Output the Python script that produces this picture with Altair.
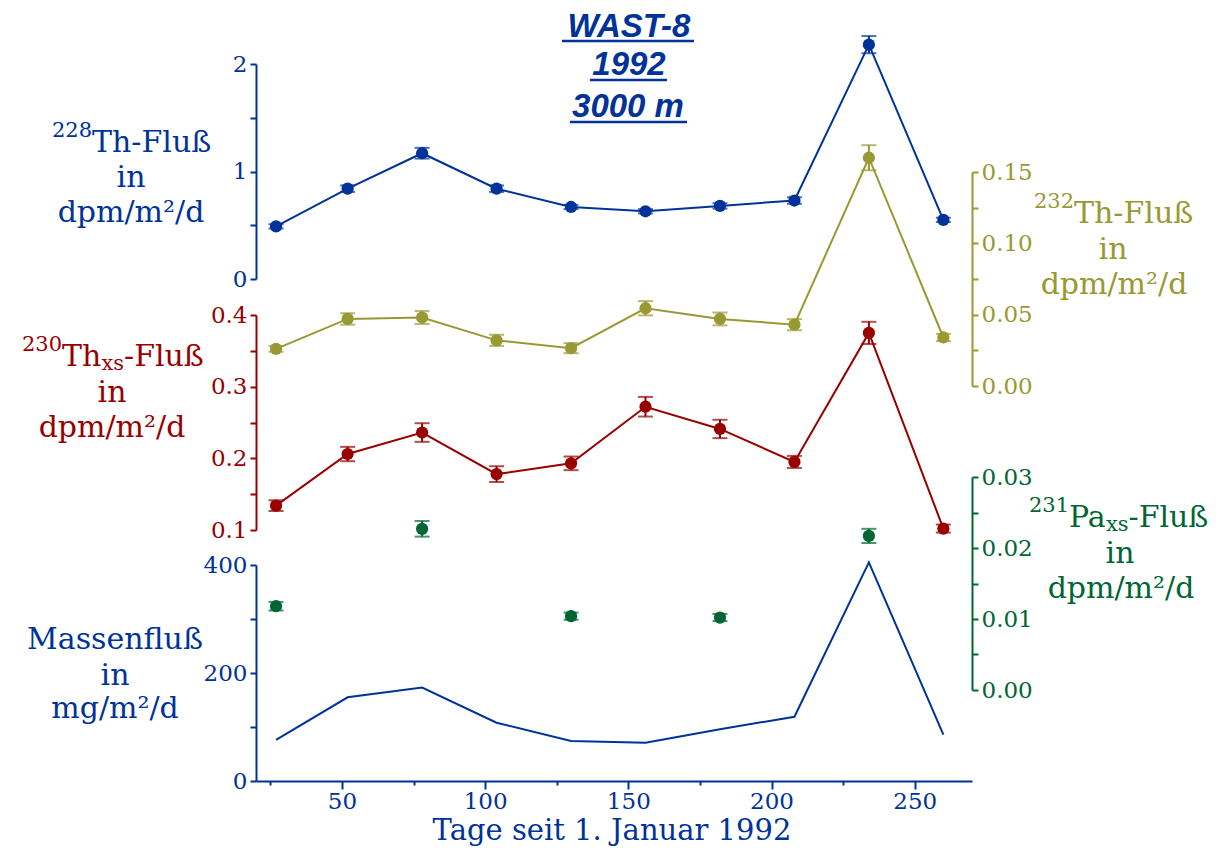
import altair as alt
import pandas as pd

# ---------------- data ----------------
days = [27, 52, 78, 104, 130, 156, 182, 208, 234, 260]
th228 = [0.49, 0.84, 1.17, 0.84, 0.67, 0.63, 0.68, 0.73, 2.18, 0.55]
th228_err = [0.02, 0.03, 0.05, 0.03, 0.02, 0.02, 0.025, 0.03, 0.08, 0.02]
th232 = [0.026, 0.047, 0.048, 0.032, 0.0265, 0.0545, 0.047, 0.043, 0.160, 0.034]
th232_err = [0.002, 0.004, 0.0045, 0.0039, 0.0035, 0.005, 0.0045, 0.0039, 0.0088, 0.0025]
th230 = [0.134, 0.206, 0.236, 0.178, 0.193, 0.272, 0.241, 0.195, 0.375, 0.102]
th230_err = [0.0075, 0.010, 0.013, 0.011, 0.0095, 0.0137, 0.0128, 0.0084, 0.0155, 0.0056]
pa_days = [27, 78, 130, 182, 234]
pa231 = [0.0118, 0.0227, 0.0104, 0.0102, 0.0217]
pa231_err = [0.0006, 0.0011, 0.0005, 0.0005, 0.0010]
mass = [76, 155, 173, 108, 74, 71, 96, 119, 405, 86]

x_ticks = [25, 50, 75, 100, 125, 150, 175, 200, 225, 250]

BLUE = "#003399"
OLIVE = "#999933"
RED = "#990000"
GREEN = "#006633"
SERIF = "DejaVu Serif"
TICK_FS = 23
MAIN_FS = 30
SUP_FS = 21

# layout (page pixels)
OX, OY = 256, 8
W, H = 716, 773


def px(x):
    return x - OX


def py(y):
    return y - OY


X = alt.X(
    "x:Q",
    scale=alt.Scale(domain=[20, 270], nice=False, zero=False),
    axis=alt.Axis(
        values=x_ticks,
        labelExpr="datum.value % 50 == 0 ? format(datum.value, 'd') : ''",
        tickSize={"condition": {"test": "datum.value % 50 != 0", "value": 4}, "value": 8},
        tickWidth=2, domainWidth=2, domainColor=BLUE, tickColor=BLUE,
        labelColor=BLUE, labelFont=SERIF, labelFontSize=TICK_FS, labelPadding=1,
        grid=False, title=None,
    ),
)


def yaxis(color, orient, values, expr):
    return alt.Axis(
        orient=orient, values=values, labelExpr=expr, tickSize=6, tickWidth=2,
        domainWidth=2, domainColor=color, tickColor=color, labelColor=color,
        labelFont=SERIF, labelFontSize=TICK_FS, labelPadding=3, grid=False, title=None,
    )


def series(xs, vals, errs, color, scale, axis, line=True, point_size=150):
    df = pd.DataFrame({"x": xs, "v": vals,
                       "lo": [v - e for v, e in zip(vals, errs)],
                       "hi": [v + e for v, e in zip(vals, errs)]})
    caps = pd.DataFrame({"x": xs + xs, "v": list(df["lo"]) + list(df["hi"])})

    def Y(f):
        return alt.Y(f + ":Q", scale=scale, axis=axis, title=None)

    layers = []
    if line:
        layers.append(alt.Chart(df).mark_line(color=color, strokeWidth=2).encode(x=X, y=Y("v")))
    layers.append(alt.Chart(df).mark_rule(color=color, strokeWidth=2).encode(x=X, y=Y("lo"), y2="hi:Q"))
    layers.append(alt.Chart(caps).mark_tick(color=color, orient="horizontal", size=15, thickness=2)
                  .encode(x=X, y=Y("v")))
    layers.append(alt.Chart(df).mark_circle(color=color, size=point_size, opacity=1).encode(x=X, y=Y("v")))
    return alt.layer(*layers)


s228 = series(days, th228, th228_err, BLUE,
              alt.Scale(domain=[0, 2], range=[py(279), py(64)], nice=False, zero=False),
              yaxis(BLUE, "left", [0, 0.5, 1, 1.5, 2],
                    "datum.value % 1 == 0 ? format(datum.value, 'd') : ''"))
s232 = series(days, th232, th232_err, OLIVE,
              alt.Scale(domain=[0, 0.15], range=[py(386), py(172)], nice=False, zero=False),
              yaxis(OLIVE, "right", [0, 0.025, 0.05, 0.075, 0.1, 0.125, 0.15],
                    "abs(datum.value*20 - round(datum.value*20)) < 0.001 ? format(datum.value, '.2f') : ''"))
s230 = series(days, th230, th230_err, RED,
              alt.Scale(domain=[0.1, 0.4], range=[py(530), py(315)], nice=False, zero=False),
              yaxis(RED, "left", [0.1, 0.15, 0.2, 0.25, 0.3, 0.35, 0.4],
                    "abs(datum.value*10 - round(datum.value*10)) < 0.001 ? format(datum.value, '.1f') : ''"))
s231 = series(pa_days, pa231, pa231_err, GREEN,
              alt.Scale(domain=[0, 0.03], range=[py(690), py(477)], nice=False, zero=False),
              yaxis(GREEN, "right", [0, 0.005, 0.01, 0.015, 0.02, 0.025, 0.03],
                    "abs(datum.value*100 - round(datum.value*100)) < 0.001 ? format(datum.value, '.2f') : ''"),
              line=False)

mass_df = pd.DataFrame({"x": days, "v": mass})
smass = alt.Chart(mass_df).mark_line(color=BLUE, strokeWidth=2).encode(
    x=X,
    y=alt.Y("v:Q", scale=alt.Scale(domain=[0, 400], range=[py(781), py(565)], nice=False, zero=False),
            axis=yaxis(BLUE, "left", [0, 100, 200, 300, 400],
                       "datum.value % 200 == 0 ? format(datum.value, 'd') : ''"),
            title=None),
)

one = pd.DataFrame({"d": [0]})


def txt(s, x, y, size=MAIN_FS, color=BLUE, align="left", font=SERIF, weight="normal", style="normal"):
    return alt.Chart(one).mark_text(
        text=s, font=font, fontSize=size, color=color, align=align, baseline="alphabetic",
        fontWeight=weight, fontStyle=style,
    ).encode(x=alt.value(px(x)), y=alt.value(py(y)))


def uline(x1, x2, y):
    return alt.Chart(one).mark_rule(color=BLUE, strokeWidth=2.5).encode(
        x=alt.value(px(x1)), x2=alt.value(px(x2)), y=alt.value(py(y)))


texts = [
    # title
    txt("WAST-8", 629, 37, 33, BLUE, "center", "Liberation Sans", "bold", "italic"),
    txt("1992", 629, 75, 33, BLUE, "center", "Liberation Sans", "bold", "italic"),
    txt("3000 m", 628, 117, 33, BLUE, "center", "Liberation Sans", "bold", "italic"),
    uline(562, 694, 41), uline(590, 667, 80), uline(570, 687, 122),
    # 228Th
    txt("228", 92, 137, SUP_FS, BLUE, "right"),
    txt("Th-Fluß", 92, 152, MAIN_FS, BLUE, "left"),
    txt("in", 131, 187, MAIN_FS, BLUE, "center"),
    txt("dpm/m²/d", 131, 222, MAIN_FS, BLUE, "center"),
    # 230Th
    txt("230", 62, 351, SUP_FS, RED, "right"),
    txt("Th", 62, 366, MAIN_FS, RED, "left"),
    txt("xs", 101.5, 370, SUP_FS, RED, "left"),
    txt("-Fluß", 124, 366, MAIN_FS, RED, "left"),
    txt("in", 112, 402, MAIN_FS, RED, "center"),
    txt("dpm/m²/d", 112, 437, MAIN_FS, RED, "center"),
    # 232Th
    txt("232", 1074, 208, SUP_FS, OLIVE, "right"),
    txt("Th-Fluß", 1074, 223, MAIN_FS, OLIVE, "left"),
    txt("in", 1113, 259, MAIN_FS, OLIVE, "center"),
    txt("dpm/m²/d", 1114, 294, MAIN_FS, OLIVE, "center"),
    # 231Pa
    txt("231", 1069, 512, SUP_FS, GREEN, "right"),
    txt("Pa", 1069, 527, MAIN_FS, GREEN, "left"),
    txt("xs", 1106, 531, SUP_FS, GREEN, "left"),
    txt("-Fluß", 1128.5, 527, MAIN_FS, GREEN, "left"),
    txt("in", 1120, 563, MAIN_FS, GREEN, "center"),
    txt("dpm/m²/d", 1121, 598, MAIN_FS, GREEN, "center"),
    # mass
    txt("Massenfluß", 115, 649, MAIN_FS, BLUE, "center"),
    txt("in", 115, 685, MAIN_FS, BLUE, "center"),
    txt("mg/m²/d", 115, 718, MAIN_FS, BLUE, "center"),
    # x axis title
    txt("Tage seit 1. Januar 1992", 612, 840, 29, BLUE, "center"),
]

chart = alt.layer(s228, s232, s230, s231, smass, *texts).resolve_scale(y="independent").properties(
    width=W, height=H,
    autosize=alt.AutoSizeParams(type="none"),
    padding={"left": OX - 8, "top": OY - 8, "right": 1209 - (OX - 8) - W, "bottom": 838 - H},
).configure_view(stroke=None)

chart.save("out.html", embed_options={"renderer": "svg", "actions": False})
